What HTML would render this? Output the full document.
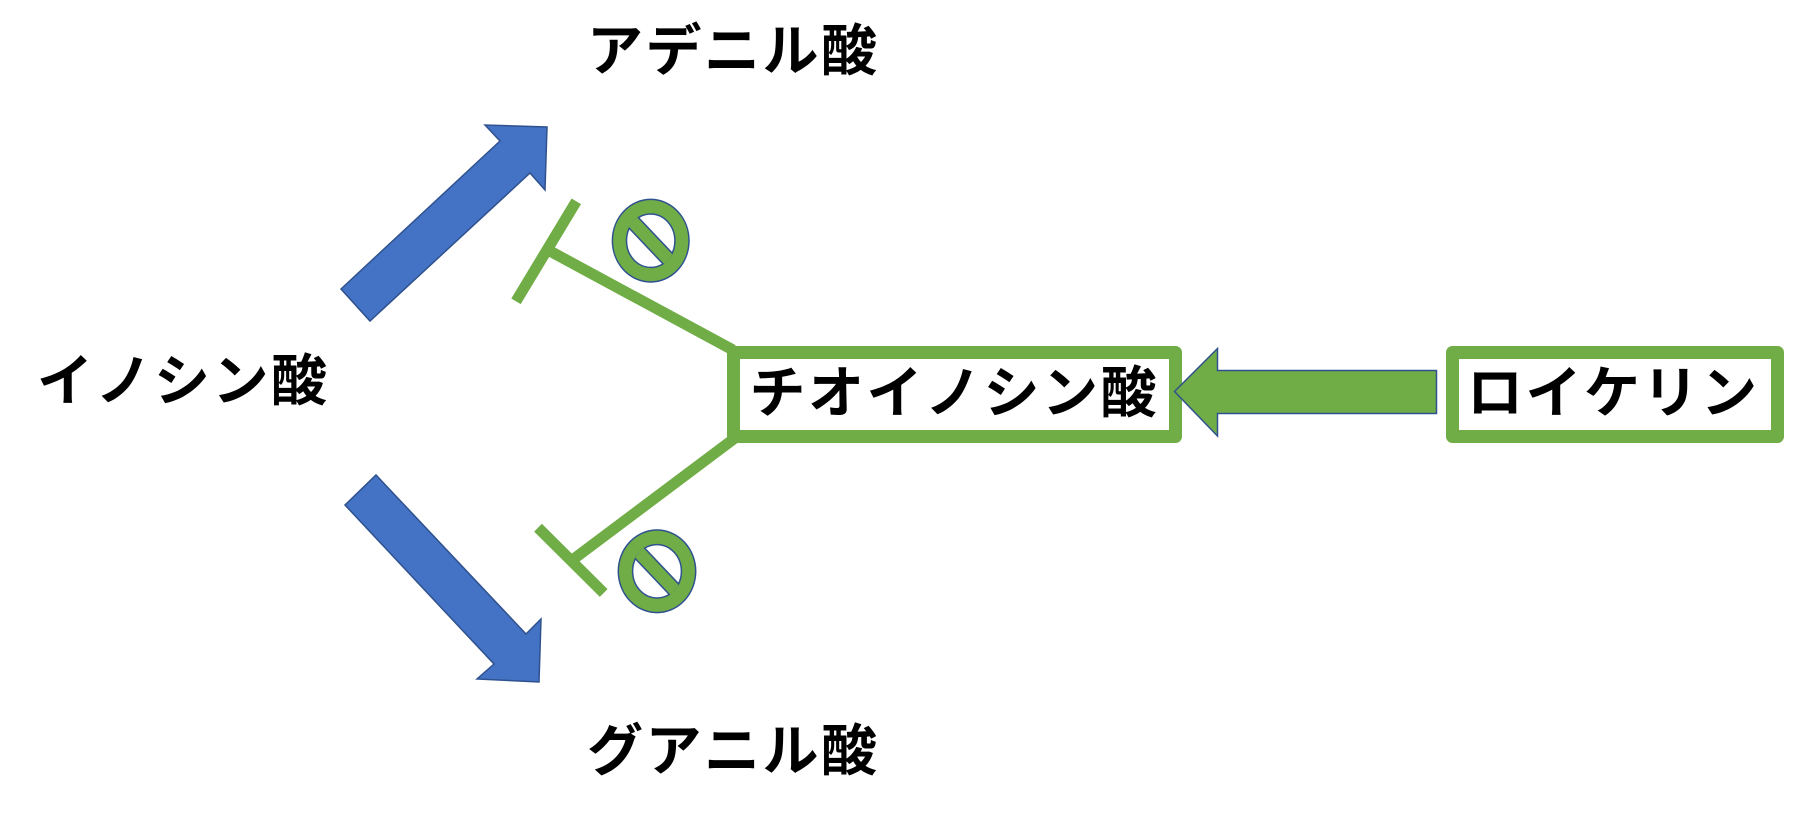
<!DOCTYPE html>
<html><head><meta charset="utf-8">
<style>
html,body{margin:0;padding:0;background:#fff;}
svg{display:block;}
text{font-family:"Liberation Sans","Noto Sans CJK JP",sans-serif;font-weight:bold;font-size:56px;fill:#000;}
</style></head>
<body>
<svg width="1795" height="823" viewBox="0 0 1795 823" xmlns="http://www.w3.org/2000/svg">
<rect width="1795" height="823" fill="#fff"/>
<defs>
  <clipPath id="h1"><ellipse cx="0" cy="0" rx="25" ry="27.5"/></clipPath>
</defs>

<!-- blue arrows -->
<polygon points="341,289 500,141 485,125 547,127 545,190 530,173 370,321" fill="#4472C4" stroke="#2F528F" stroke-width="1.5" stroke-linejoin="miter"/>
<polygon points="345,505 376,475 526,634 541,619 539,682 477,679 494,664" fill="#4472C4" stroke="#2F528F" stroke-width="1.5" stroke-linejoin="miter"/>

<!-- inhibition lines -->
<g stroke="#70AD47" stroke-width="11" fill="none">
  <line x1="576.3" y1="201.3" x2="516" y2="301.3"/>
  <line x1="548" y1="250" x2="733" y2="350"/>
  <line x1="538" y1="527.7" x2="603.7" y2="593"/>
  <line x1="571" y1="561" x2="735" y2="438"/>
</g>

<!-- boxes -->
<rect x="733.5" y="352.5" width="442" height="84" fill="#fff" stroke="#70AD47" stroke-width="13" stroke-linejoin="round"/>
<rect x="1452.5" y="352.5" width="325" height="84" fill="#fff" stroke="#70AD47" stroke-width="13" stroke-linejoin="round"/>

<!-- green arrow -->
<polygon points="1174.5,391.5 1217.5,348.5 1217.5,370.5 1436.5,370.5 1436.5,413.5 1217.5,413.5 1217.5,436" fill="#70AD47" stroke="#2F528F" stroke-width="1.5"/>

<!-- prohibition signs -->
<g transform="translate(650.7,240.7)">
  <ellipse cx="0" cy="0" rx="38.3" ry="41.3" fill="#70AD47" stroke="#2F528F" stroke-width="1.5"/>
  <ellipse cx="0" cy="0" rx="24.2" ry="26.7" fill="#fff" stroke="#2F528F" stroke-width="1.5"/>
  <g clip-path="url(#h1)">
    <rect x="-60" y="-7" width="120" height="14" fill="#70AD47" stroke="#2F528F" stroke-width="1.5" transform="rotate(46.5)"/>
  </g>
</g>
<g transform="translate(657,571.3)">
  <ellipse cx="0" cy="0" rx="38.7" ry="41.3" fill="#70AD47" stroke="#2F528F" stroke-width="1.5"/>
  <ellipse cx="0" cy="0" rx="24.4" ry="26.7" fill="#fff" stroke="#2F528F" stroke-width="1.5"/>
  <g clip-path="url(#h1)">
    <rect x="-60" y="-7" width="120" height="14" fill="#70AD47" stroke="#2F528F" stroke-width="1.5" transform="rotate(46.5)"/>
  </g>
</g>

<!-- labels -->
<text x="587 645.5 704 762.5 821" y="70.5">アデニル酸</text>
<text x="37 95.5 154 212.5 271" y="400.5">イノシン酸</text>
<text x="587 645.5 704 762.5 821" y="770.5">グアニル酸</text>
<text x="749.5 808 866.5 925 983.5 1042 1100.5" y="412.5">チオイノシン酸</text>
<text x="1467 1525.5 1584 1642.5 1701" y="412.5">ロイケリン</text>
</svg>
</body></html>
